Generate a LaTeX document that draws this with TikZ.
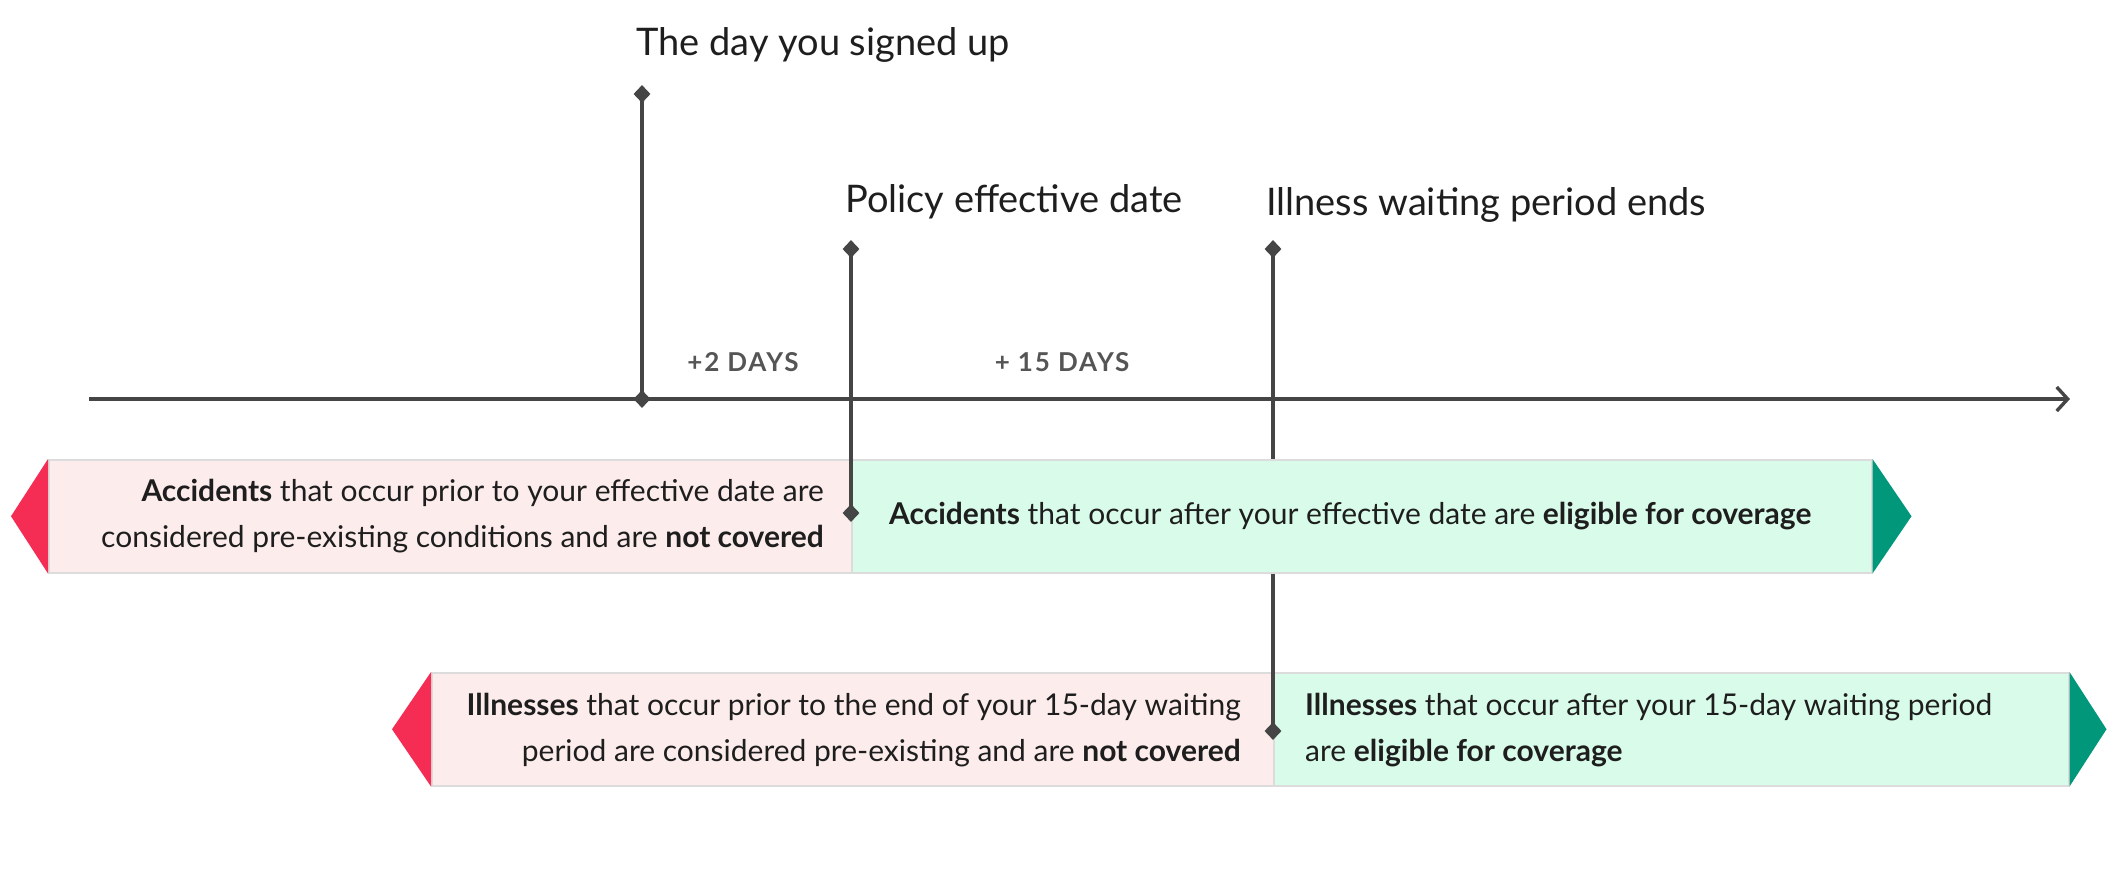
\documentclass[tikz,border=0pt]{standalone}
\usepackage{fontspec}
\setmainfont{Lato}
\newfontfamily\capsfont[LetterSpace=7]{Lato}
\usetikzlibrary{calc}
\usetikzlibrary{positioning}
\usetikzlibrary{arrows.meta}
\usetikzlibrary{shapes.geometric}

\definecolor{ink}{HTML}{1E1E1E}
\definecolor{inkline}{HTML}{454545}
\definecolor{daysgray}{HTML}{555555}
\definecolor{pinkfill}{HTML}{FDECEC}
\definecolor{mintfill}{HTML}{D9FBEA}
\definecolor{bandedge}{HTML}{DCDCDC}
\definecolor{redtip}{HTML}{F52D55}
\definecolor{greentip}{HTML}{00977A}

\begin{document}
\begin{tikzpicture}[x=1pt, y=-1pt,
    band/.style={rectangle, draw=bandedge, line width=1.5pt, inner sep=0pt, minimum height=113pt, anchor=north west},
    dot/.style={diamond, fill=inkline, inner sep=0pt, minimum width=17pt, minimum height=18pt},
    stem/.style={draw=inkline, line width=3.4pt},
    title/.style={anchor=base west, inner sep=0pt, text=ink, font=\fontsize{38}{44}\selectfont},
    days/.style={text=daysgray, font=\capsfont\bfseries\fontsize{26}{30}\selectfont},
    body/.style={inner sep=0pt, text=ink, font=\fontsize{30}{46}\selectfont}]
    \useasboundingbox (0, 0) rectangle (2112, 876);

    % illnesses band
    \node[band, fill=pinkfill, minimum width=842pt] (illPre) at (431, 672) {};
    \node[band, fill=mintfill, minimum width=795pt] (illPost) at (1273, 672) {};
    \fill[redtip] (illPre.north west) -- (illPre.south west) -- ($(illPre.west) + (-39, 0)$) -- cycle;
    \fill[greentip] (illPost.north east) -- (illPost.south east) -- ($(illPost.east) + (37, 0)$) -- cycle;

    \node[dot] (waitTop) at (1273, 249) {};
    \node[dot] (waitBand) at (1273, 731) {};
    \draw[stem] (waitTop.center) -- (waitBand.center);

    % accidents band
    \node[band, fill=pinkfill, minimum width=803pt] (accPre) at (48, 459) {};
    \node[band, fill=mintfill, minimum width=1020pt] (accPost) at (851, 459) {};
    \fill[redtip] (accPre.north west) -- (accPre.south west) -- ($(accPre.west) + (-37, 0)$) -- cycle;
    \fill[greentip] (accPost.north east) -- (accPost.south east) -- ($(accPost.east) + (39, 0)$) -- cycle;

    % time line
    \node[dot] (signTop) at (642, 94) {};
    \node[dot] (signAxis) at (642, 399) {};
    \node[dot] (effTop) at (851, 249) {};
    \node[dot] (effBand) at (851, 513) {};
    \draw[stem] (signTop.center) -- (signAxis.center);
    \draw[stem] (effTop.center) -- (effBand.center);

    \coordinate (axisStart) at (89, 399);
    \coordinate (axisEnd) at (2070, 399);
    \draw[stem, -{Straight Barb[length=11pt, width=24pt]}] (axisStart) -- (axisEnd);

    \node[title] (signLabel) at (636, 55) {The day you signed up};
    \node[title] (effLabel) at (845, 212) {Policy effective date};
    \node[title] (waitLabel) at (1266, 215) {Illness waiting period ends};

    \node[days] (twoDays) at (743, 362) {+2 DAYS};
    \node[days] (fifteenDays) at (1062, 362) {+ 15 DAYS};

    % band texts
    \node[body, anchor=east, align=right] (accPreText) at (824, 516)
        {\textbf{Accidents} that occur prior to your effective date are\\considered pre-existing conditions and are \textbf{not covered}};
    \node[body, anchor=west, align=left] (accPostText) at (889, 516)
        {\textbf{Accidents} that occur after your effective date are \textbf{eligible for coverage}};
    \node[body, anchor=east, align=right] (illPreText) at (1241, 730)
        {\textbf{Illnesses} that occur prior to the end of your 15-day waiting\\period are considered pre-existing and are \textbf{not covered}};
    \node[body, anchor=west, align=left] (illPostText) at (1305, 730)
        {\textbf{Illnesses} that occur after your 15-day waiting period\\are \textbf{eligible for coverage}};
\end{tikzpicture}
\end{document}
